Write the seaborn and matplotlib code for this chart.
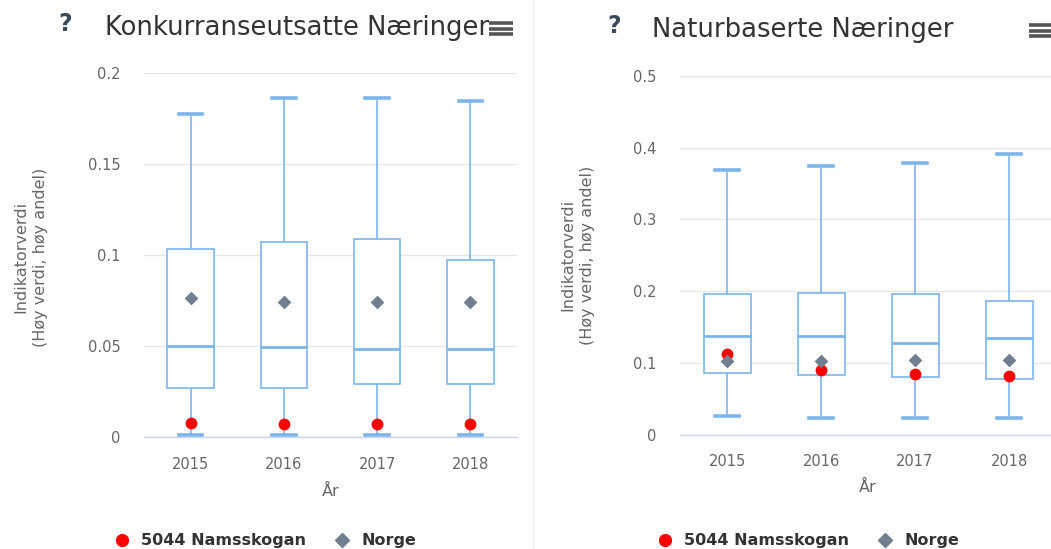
import numpy as np
import pandas as pd
import matplotlib
matplotlib.use('Agg')
import matplotlib.pyplot as plt
import seaborn as sns
from matplotlib.lines import Line2D

years = ['2015', '2016', '2017', '2018']

# Konkurranseutsatte Næringer (box statistics per year)
k_low = [0.001, 0.001, 0.001, 0.001]
k_q1 = [0.027, 0.027, 0.0294, 0.0294]
k_med = [0.0502, 0.0494, 0.0484, 0.0484]
k_q3 = [0.1031, 0.1073, 0.1088, 0.0974]
k_high = [0.1775, 0.1863, 0.1863, 0.1847]
k_kommune = [0.0080, 0.0071, 0.0071, 0.0071]
k_norge = [0.0764, 0.0744, 0.0744, 0.0744]
k_ticks = [0, 0.05, 0.1, 0.15, 0.2]
k_ticklabels = ['0', '0.05', '0.1', '0.15', '0.2']

# Naturbaserte Næringer
n_low = [0.0256, 0.0237, 0.0237, 0.0237]
n_q1 = [0.0856, 0.0833, 0.081, 0.0773]
n_med = [0.1377, 0.1377, 0.1275, 0.1353]
n_q3 = [0.1962, 0.198, 0.1962, 0.186]
n_high = [0.3685, 0.375, 0.3786, 0.3907]
n_kommune = [0.112, 0.0902, 0.0847, 0.0819]
n_norge = [0.1028, 0.1032, 0.1046, 0.1037]
n_ticks = [0, 0.1, 0.2, 0.3, 0.4, 0.5]
n_ticklabels = ['0', '0.1', '0.2', '0.3', '0.4', '0.5']

kommune_navn = '5044 Namsskogan'
norge_navn = 'Norge'
ylabel = 'Indikatorverdi\n(Høy verdi, høy andel)'

BOX = '#7cb5ec'
RED = '#ff0000'
GREY = '#708090'
TXT = '#666666'

plt.rcParams['font.family'] = ['DejaVu Sans']


def long_form(low, q1, med, q3, high):
    # five values per year -> percentiles 0/25/50/75/100 hit them exactly
    rows = []
    for i, yr in enumerate(years):
        for v in (low[i], q1[i], med[i], q3[i], high[i]):
            rows.append({'year': yr, 'value': v})
    return pd.DataFrame(rows)


def draw_panel(ax, df, kommune, norge, ticks, ticklabels, ymax, pad, xpad):
    sns.boxplot(data=df, x='year', y='value', order=years, ax=ax, whis=(0, 100),
                width=0.5, fill=True, color='white', linecolor=BOX, linewidth=1.2,
                medianprops={'linewidth': 2.0, 'color': BOX},
                capprops={'linewidth': 2.6, 'color': BOX},
                whiskerprops={'linewidth': 1.2, 'color': BOX})
    sns.stripplot(x=years, y=kommune, order=years, jitter=False, ax=ax,
                  color=RED, marker='o', size=8.5, linewidth=0, zorder=5)
    sns.stripplot(x=years, y=norge, order=years, jitter=False, ax=ax,
                  color=GREY, marker='D', size=7, linewidth=0, zorder=6)
    ax.set_ylim(0, ymax)
    ax.set_xlim(-0.5, 3.5)
    ax.set_yticks(ticks, ticklabels)
    ax.grid(axis='y', color='#e6e6e6', linewidth=1)
    ax.set_axisbelow(True)
    for s in ['left', 'right', 'top']:
        ax.spines[s].set_visible(False)
    ax.spines['bottom'].set_color('#ccd6eb')
    ax.spines['bottom'].set_linewidth(1)
    ax.tick_params(axis='y', length=0, pad=pad, labelsize=10.5, labelcolor=TXT)
    ax.tick_params(axis='x', length=0, pad=14, labelsize=10.5, labelcolor=TXT)
    ax.set_xlabel('År', fontsize=11.5, color=TXT, labelpad=xpad)
    ax.set_ylabel('')


fig = plt.figure(figsize=(10.51, 5.49), dpi=100)

ax1 = fig.add_axes([144 / 1051, 1 - 437.3 / 549, 373 / 1051, 364.6 / 549])
ax2 = fig.add_axes([680 / 1051, 1 - 434.7 / 549, 376 / 1051, 358.7 / 549])

draw_panel(ax1, long_form(k_low, k_q1, k_med, k_q3, k_high), k_kommune, k_norge,
           k_ticks, k_ticklabels, 0.2, 17, 9)
draw_panel(ax2, long_form(n_low, n_q1, n_med, n_q3, n_high), n_kommune, n_norge,
           n_ticks, n_ticklabels, 0.5, 17, 8)

# y labels
for x, y in [(31 / 1051, 1 - 257 / 549), (578 / 1051, 1 - 255 / 549)]:
    fig.text(x, y, ylabel, rotation=90, ha='center', va='center',
             fontsize=11.5, color=TXT, linespacing=1.4)

# titles, help icon and menu icon
fig.text(105 / 1051, 1 - 28 / 549, 'Konkurranseutsatte Næringer', fontsize=18.6,
         color='#333333', va='center', ha='left')
fig.text(652 / 1051, 1 - 30 / 549, 'Naturbaserte Næringer', fontsize=18.6,
         color='#333333', va='center', ha='left')
for x, y in [(65 / 1051, 1 - 24 / 549), (614 / 1051, 1 - 26 / 549)]:
    fig.text(x, y, '?', fontsize=17, fontweight='bold', color='#3a4a5a',
             ha='center', va='center')
for x0, y0 in [(489, 23), (1029, 25)]:
    for k in range(3):
        yy = 1 - (y0 + k * 5.5) / 549
        fig.add_artist(Line2D([x0 / 1051, (x0 + 24) / 1051], [yy, yy],
                              color='#555555', linewidth=2.6,
                              solid_capstyle='butt'))

# thin separator between the two charts
fig.add_artist(Line2D([533 / 1051, 533 / 1051], [0, 1], color='#f0f0f0', linewidth=1))

# legends
handles = [
    Line2D([], [], linestyle='none', marker='o', color=RED, markersize=8.5,
           label=kommune_navn),
    Line2D([], [], linestyle='none', marker='D', color=GREY, markersize=7,
           label=norge_navn),
]
for cx in [265 / 1051, 808 / 1051]:
    fig.legend(handles=handles, loc='center', bbox_to_anchor=(cx, 1 - 541 / 549),
               ncol=2, frameon=False, handletextpad=0.7, columnspacing=1.8,
               handlelength=1.0, prop={'weight': 'bold', 'size': 11.5},
               labelcolor='#333333')

fig.savefig('out.png', dpi=100)
